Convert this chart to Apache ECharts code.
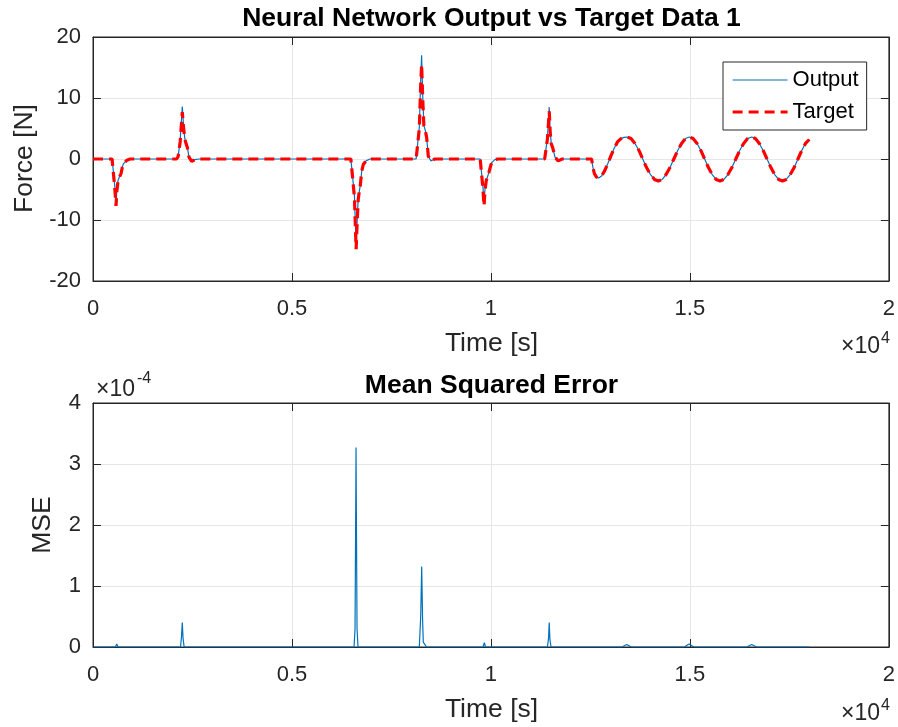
<!DOCTYPE html>
<html>
<head>
<meta charset="utf-8">
<script src="https://cdn.jsdelivr.net/npm/echarts@6/dist/echarts.min.js"></script>
<style>
  html, body { margin: 0; padding: 0; background: #fff; }
  #chart { width: 898px; height: 727px; }
</style>
</head>
<body>
<div id="chart"></div>
<script>
// ---- Force data (time in seconds, force in N) ----
const restTime   = [0];
const restForce  = [0];

const pulse1Time   = [480, 515, 548, 578, 600, 630, 661, 704, 735, 761, 854, 930];
const pulse1Output = [0, -0.3, -4.5, -7.3, -5.0, -3.5, -3.0, -2.4, -1.4, -0.8, -0.2, 0];
const pulse1Target = [0, -0.3, -4.8, -7.7, -5.2, -3.6, -3.0, -2.4, -1.4, -0.8, -0.2, 0];

const pulse2Time   = [2100, 2140, 2190, 2244, 2275, 2306, 2335, 2372, 2412, 2480, 2560, 2660];
const pulse2Output = [0, 0.4, 3.0, 8.6, 5.5, 3.4, 2.6, 1.9, 0.3, -0.4, -0.1, 0];
const pulse2Target = [0, 0.4, 2.8, 7.7, 5.2, 3.3, 2.6, 1.9, 0.3, -0.4, -0.1, 0];

const pulse3Time   = [6480, 6530, 6570, 6612, 6640, 6665, 6692, 6720, 6752, 6793, 6860, 6960];
const pulse3Output = [0, -0.3, -6.0, -14.3, -9.8, -6.5, -5.3, -4.2, -2.0, -0.9, -0.3, 0];
const pulse3Target = [0, -0.3, -6.3, -14.8, -10.2, -6.6, -5.3, -4.2, -2.0, -0.9, -0.3, 0];

const pulse4Time   = [8120, 8150, 8200, 8235, 8258, 8285, 8315, 8350, 8385, 8425, 8490, 8590];
const pulse4Output = [0, 0.3, 5.2, 13.0, 17.0, 10.5, 5.5, 4.7, 3.5, 0.5, -0.3, 0];
const pulse4Target = [0, 0.3, 5.0, 12.2, 15.5, 10.0, 5.4, 4.7, 3.5, 0.5, -0.3, 0];

const pulse5Time   = [9730, 9765, 9798, 9826, 9850, 9880, 9910, 9950, 9985, 10019, 10100, 10180];
const pulse5Output = [0, -0.3, -4.5, -7.2, -5.0, -3.5, -3.0, -2.2, -1.3, -0.6, -0.1, 0];
const pulse5Target = [0, -0.3, -4.8, -7.7, -5.2, -3.6, -3.0, -2.2, -1.3, -0.6, -0.1, 0];

const pulse6Time   = [11350, 11385, 11420, 11465, 11490, 11515, 11550, 11610, 11690, 11790];
const pulse6Output = [0, 0.3, 3.5, 8.5, 4.5, 2.6, 1.9, 0.3, -0.3, 0];
const pulse6Target = [0, 0.3, 3.3, 7.8, 4.3, 2.5, 1.9, 0.3, -0.3, 0];

// oscillating section (output and target coincide here)
const oscTime = [12530, 12560, 12600, 12650, 12708, 12780, 12860, 12940, 13020, 13100,
  13180, 13260, 13340, 13420, 13520, 13620, 13720, 13815, 13910, 14010,
  14110, 14207, 14305, 14400, 14500, 14596, 14693, 14790, 14888, 14985,
  15080, 15180, 15275, 15370, 15465, 15560, 15660, 15756, 15855, 15955,
  16055, 16153, 16250, 16350, 16450, 16550, 16645, 16745, 16840, 16938,
  17035, 17130, 17230, 17326, 17420, 17520, 17620, 17715, 17810, 17905, 18000];
const oscForce = [0, -1.3, -2.4, -2.95, -3.1, -2.8, -1.9, -0.7, 0.6, 1.8,
  2.8, 3.3, 3.55, 3.6, 3.35, 2.55, 1.4, 0, -1.4, -2.55,
  -3.35, -3.6, -3.35, -2.55, -1.4, 0, 1.4, 2.55, 3.35, 3.6,
  3.35, 2.55, 1.4, 0, -1.4, -2.55, -3.35, -3.6, -3.35, -2.55,
  -1.4, 0, 1.4, 2.55, 3.35, 3.6, 3.35, 2.55, 1.4, 0,
  -1.4, -2.55, -3.35, -3.6, -3.35, -2.55, -1.4, 0, 1.4, 2.55, 3.2];

// ---- Mean squared error ----
const mseTime = [0, 560, 596, 630, 2200, 2225, 2244, 2262, 2290,
  6560, 6585, 6600, 6610, 6620, 6635, 6660,
  8200, 8235, 8260, 8282, 8300, 8345, 8380,
  9800, 9834, 9865, 11420, 11448, 11465, 11482, 11510,
  13290, 13412, 13530, 14860, 14977, 15100, 16430, 16553, 16680, 18000];
const mseValue = [0, 0, 0.05e-4, 0, 0, 0.18e-4, 0.40e-4, 0.15e-4, 0,
  0, 0.3e-4, 2.0e-4, 3.27e-4, 2.0e-4, 0.3e-4, 0,
  0, 0.5e-4, 1.32e-4, 0.45e-4, 0.08e-4, 0.06e-4, 0,
  0, 0.07e-4, 0, 0, 0.15e-4, 0.40e-4, 0.12e-4, 0,
  0, 0.04e-4, 0, 0, 0.05e-4, 0, 0, 0.04e-4, 0, 0];

// ---- tick settings ----
const timeTicks  = { min: 0, max: 20000, step: 5000 };
const forceTicks = { min: -20, max: 20, step: 10 };
const mseTicks   = { min: 0, max: 4e-4, step: 1e-4 };

// assemble the full force traces
const forceTime   = [].concat(restTime, pulse1Time, pulse2Time, pulse3Time, pulse4Time, pulse5Time, pulse6Time, oscTime);
const outputForce = [].concat(restForce, pulse1Output, pulse2Output, pulse3Output, pulse4Output, pulse5Output, pulse6Output, oscForce);
const targetForce = [].concat(restForce, pulse1Target, pulse2Target, pulse3Target, pulse4Target, pulse5Target, pulse6Target, oscForce);

const FONT = '"Liberation Sans", Arial, Helvetica, sans-serif';
const INK = '#262626';
const GRID_LINE = '#e6e6e6';
const OUT_COLOR = '#0072BD';
const TGT_COLOR = '#FF0000';
const TGT_DASH = [10, 6];

function xAxisDef(gridIndex, position, main) {
  return {
    type: 'value', gridIndex, position,
    min: timeTicks.min, max: timeTicks.max, interval: timeTicks.step,
    axisLine: { show: true, onZero: false, lineStyle: { color: INK, width: 1 } },
    axisTick: { show: true, inside: true, length: 8, lineStyle: { color: INK, width: 1 } },
    axisLabel: main ? {
      show: true, margin: 17, fontSize: 22, color: INK, fontFamily: FONT,
      showMinLabel: true, showMaxLabel: true,
      formatter: v => String(Math.round(v / 1000) / 10)
    } : { show: false },
    splitLine: { show: main, lineStyle: { color: GRID_LINE, width: 1 } }
  };
}

function yAxisDef(gridIndex, position, main, ticks, fmt) {
  return {
    type: 'value', gridIndex, position,
    min: ticks.min, max: ticks.max, interval: ticks.step,
    axisLine: { show: true, onZero: false, lineStyle: { color: INK, width: 1 } },
    axisTick: { show: true, inside: true, length: 8, lineStyle: { color: INK, width: 1 } },
    axisLabel: main ? {
      show: true, margin: 12, fontSize: 22, color: INK, fontFamily: FONT,
      showMinLabel: true, showMaxLabel: true, formatter: fmt
    } : { show: false },
    splitLine: { show: main, lineStyle: { color: GRID_LINE, width: 1 } }
  };
}

function txt(x, y, text, size, opts) {
  opts = opts || {};
  return {
    type: 'text', x, y, rotation: opts.rotation || 0, z: 100,
    style: {
      text, fill: opts.color || INK, fontSize: size, fontFamily: FONT,
      fontWeight: opts.bold ? 'bold' : 'normal',
      align: opts.align || 'center', verticalAlign: 'middle'
    }
  };
}

const chart = echarts.init(document.getElementById('chart'), null, { renderer: 'canvas' });

chart.setOption({
  animation: false,
  backgroundColor: '#ffffff',
  grid: [
    { left: 93, top: 37, width: 796, height: 244, show: true, borderColor: INK, borderWidth: 1, backgroundColor: '#fff' },
    { left: 93, top: 403, width: 796, height: 244, show: true, borderColor: INK, borderWidth: 1, backgroundColor: '#fff' }
  ],
  xAxis: [
    xAxisDef(0, 'bottom', true),
    xAxisDef(0, 'top', false),
    xAxisDef(1, 'bottom', true),
    xAxisDef(1, 'top', false)
  ],
  yAxis: [
    yAxisDef(0, 'left', true, forceTicks, v => String(v)),
    yAxisDef(0, 'right', false, forceTicks),
    yAxisDef(1, 'left', true, mseTicks, v => String(Math.round(v * 1e4))),
    yAxisDef(1, 'right', false, mseTicks)
  ],
  legend: {
    data: [
      { name: 'Output', itemStyle: { opacity: 0 }, lineStyle: { color: OUT_COLOR, width: 1.2 } },
      { name: 'Target', itemStyle: { opacity: 0 }, lineStyle: { color: TGT_COLOR, width: 3.2, type: TGT_DASH } }
    ],
    orient: 'vertical', left: 723, top: 62,
    padding: [7, 8, 7, 8], itemWidth: 55, itemHeight: 14, itemGap: 10,
    borderColor: INK, borderWidth: 1, backgroundColor: '#fff',
    itemStyle: { opacity: 0 },
    textStyle: { fontSize: 22, color: '#000', fontFamily: FONT }
  },
  series: [
    {
      name: 'Output', type: 'line', xAxisIndex: 0, yAxisIndex: 0,
      data: forceTime.map((t, i) => [t, outputForce[i]]),
      symbol: 'none', color: OUT_COLOR,
      lineStyle: { color: OUT_COLOR, width: 1.2 }, z: 3
    },
    {
      name: 'Target', type: 'line', xAxisIndex: 0, yAxisIndex: 0,
      data: forceTime.map((t, i) => [t, targetForce[i]]),
      symbol: 'none', color: TGT_COLOR,
      lineStyle: { color: TGT_COLOR, width: 3.2, type: TGT_DASH }, z: 4
    },
    {
      name: 'MSE', type: 'line', xAxisIndex: 2, yAxisIndex: 2,
      data: mseTime.map((t, i) => [t, mseValue[i]]),
      symbol: 'none', color: OUT_COLOR,
      lineStyle: { color: OUT_COLOR, width: 1.2 }, z: 3
    }
  ],
  graphic: [
    txt(491.5, 18.5, 'Neural Network Output vs Target Data 1', 26.5, { bold: true, color: '#000' }),
    txt(491.5, 386, 'Mean Squared Error', 26.5, { bold: true, color: '#000' }),
    txt(491.5, 343.5, 'Time [s]', 26.5),
    txt(491.5, 709.5, 'Time [s]', 26.5),
    txt(25, 158.5, 'Force [N]', 26.5, { rotation: Math.PI / 2 }),
    txt(43, 525, 'MSE', 26.5, { rotation: Math.PI / 2 }),
    // axis multipliers
    txt(880, 347, '\u00d710', 23, { align: 'right' }),
    txt(881, 339, '4', 16, { align: 'left' }),
    txt(880, 714, '\u00d710', 23, { align: 'right' }),
    txt(881, 706, '4', 16, { align: 'left' }),
    txt(96, 389.5, '\u00d710', 23, { align: 'left' }),
    txt(137, 379, '-4', 16, { align: 'left' })
  ]
});
</script>
</body>
</html>
